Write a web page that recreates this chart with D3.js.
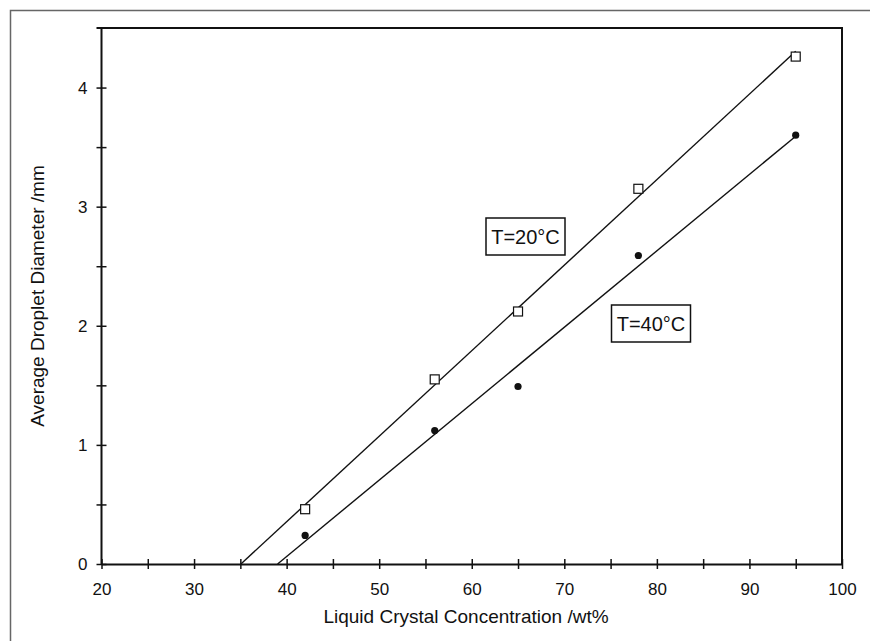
<!DOCTYPE html>
<html>
<head>
<meta charset="utf-8">
<script src="https://cdn.jsdelivr.net/npm/d3@7"></script>
<style>
  body { margin: 0; background: #fff; }
  svg { display: block; font-family: "Liberation Sans", Arial, sans-serif; }
</style>
</head>
<body>
<div id="chart"></div>
<script>
// data
const concentration = [42, 56, 65, 78, 95];
const diameter20 = [0.46, 1.55, 2.12, 3.15, 4.26];
const diameter40 = [0.24, 1.12, 1.49, 2.59, 3.60];
const xTicks = [20, 25, 30, 35, 40, 45, 50, 55, 60, 65, 70, 75, 80, 85, 90, 95, 100];
const yTicks = [0, 0.5, 1, 1.5, 2, 2.5, 3, 3.5, 4];

const width = 870;
const height = 641;
const margin = { top: 28, right: 28, bottom: 77, left: 101.5 };

const svg = d3.select('#chart').append('svg')
  .attr('width', width)
  .attr('height', height);

// outer figure frame (top and left edges visible)
svg.append('path')
  .attr('d', `M10.5,${height} L10.5,10.5 L${width},10.5`)
  .style('fill', 'none')
  .style('stroke', '#666')
  .style('stroke-width', 1.5);

const x = d3.scaleLinear().domain([20, 100]).range([margin.left, width - margin.right]);
const y = d3.scaleLinear().domain([0, 4.5]).range([height - margin.bottom, margin.top]);

// plot frame: top and right
svg.append('path')
  .attr('d', `M${x(20) - 5},${y(4.5)} L${x(100)},${y(4.5)} L${x(100)},${y(0)}`)
  .style('fill', 'none')
  .style('stroke', '#111')
  .style('stroke-width', 2);

// x axis
const xAxis = svg.append('g')
  .attr('transform', `translate(0,${y(0)})`)
  .call(d3.axisBottom(x)
    .tickValues(xTicks)
    .tickFormat((d) => (d % 10 === 0 ? d : ''))
    .tickSizeOuter(0));

xAxis.select('.domain').style('stroke', '#111').style('stroke-width', 2);
xAxis.selectAll('.tick line')
  .attr('y1', -5)
  .attr('y2', 5)
  .style('stroke', '#111')
  .style('stroke-width', 1.5);
xAxis.selectAll('.tick text')
  .attr('y', 19)
  .style('font-size', '17px')
  .style('fill', '#111');

// y axis
const yAxis = svg.append('g')
  .attr('transform', `translate(${x(20)},0)`)
  .call(d3.axisLeft(y)
    .tickValues(yTicks)
    .tickFormat((d) => (Number.isInteger(d) ? d : ''))
    .tickSizeOuter(0));

yAxis.select('.domain')
  .attr('d', `M0,${y(0)}V${y(4.5)}`)
  .style('stroke', '#111')
  .style('stroke-width', 2);
yAxis.selectAll('.tick line')
  .attr('x1', -5)
  .attr('x2', 5)
  .style('stroke', '#111')
  .style('stroke-width', 1.5);
yAxis.selectAll('.tick text')
  .attr('x', -14)
  .style('font-size', '17px')
  .style('fill', '#111');

// axis titles
svg.append('text')
  .attr('x', 466)
  .attr('y', 623)
  .attr('text-anchor', 'middle')
  .style('font-size', '19px')
  .style('fill', '#111')
  .text('Liquid Crystal Concentration /wt%');

svg.append('text')
  .attr('transform', `translate(44,${(y(0) + y(4.5)) / 2}) rotate(-90)`)
  .attr('text-anchor', 'middle')
  .style('font-size', '19px')
  .style('fill', '#111')
  .text('Average Droplet Diameter /mm');

// least-squares fit line from x-intercept to last point
function fitLine(xs, ys) {
  const mx = d3.mean(xs);
  const my = d3.mean(ys);
  const sxy = d3.sum(xs, (v, i) => (v - mx) * (ys[i] - my));
  const sxx = d3.sum(xs, (v) => (v - mx) * (v - mx));
  const slope = sxy / sxx;
  const icpt = my - slope * mx;
  const x0 = -icpt / slope;
  const x1 = d3.max(xs);
  return [[x0, 0], [x1, icpt + slope * x1]];
}

const line = d3.line().x((d) => x(d[0])).y((d) => y(d[1]));

[diameter20, diameter40].forEach((ys) => {
  svg.append('path')
    .attr('d', line(fitLine(concentration, ys)))
    .style('fill', 'none')
    .style('stroke', '#111')
    .style('stroke-width', 1.4);
});

// markers
svg.selectAll('.sq')
  .data(concentration)
  .enter()
  .append('rect')
  .attr('class', 'sq')
  .attr('x', (d) => x(d) - 4.5)
  .attr('y', (d, i) => y(diameter20[i]) - 4.5)
  .attr('width', 9)
  .attr('height', 9)
  .style('fill', '#fff')
  .style('stroke', '#111')
  .style('stroke-width', 1.2);

svg.selectAll('.dot')
  .data(concentration)
  .enter()
  .append('circle')
  .attr('class', 'dot')
  .attr('cx', (d) => x(d))
  .attr('cy', (d, i) => y(diameter40[i]))
  .attr('r', 3.6)
  .style('fill', '#111');

// boxed labels
const labels = [
  { text: 'T=20°C', cx: 525.5, cy: 236.5 },
  { text: 'T=40°C', cx: 651, cy: 323.5 },
];

labels.forEach((l) => {
  svg.append('rect')
    .attr('x', l.cx - 39.5)
    .attr('y', l.cy - 18.5)
    .attr('width', 79)
    .attr('height', 37)
    .style('fill', '#fff')
    .style('stroke', '#111')
    .style('stroke-width', 1.5);
  svg.append('text')
    .attr('x', l.cx)
    .attr('y', l.cy)
    .attr('dy', '0.35em')
    .attr('text-anchor', 'middle')
    .style('font-size', '20px')
    .style('fill', '#111')
    .text(l.text);
});
</script>
</body>
</html>
